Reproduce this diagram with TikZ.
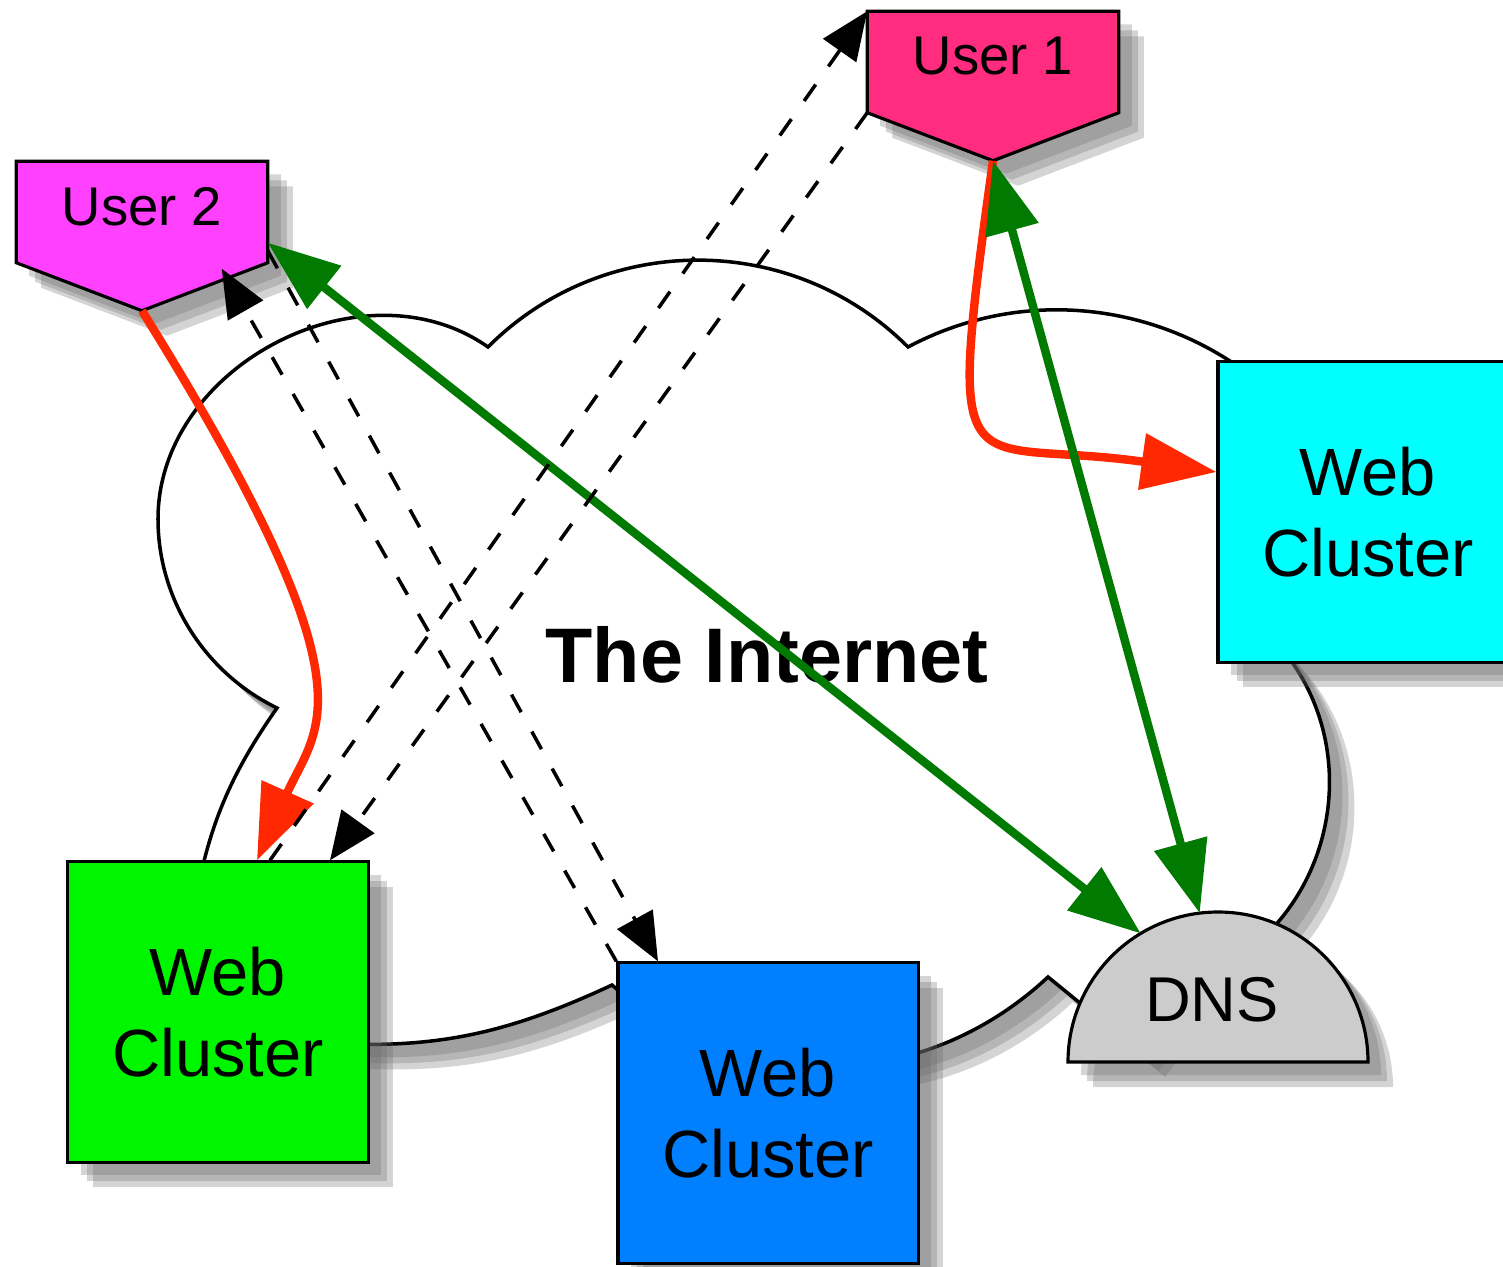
\documentclass[tikz,border=0pt]{standalone}
\usepackage{fontspec}
\setmainfont{Liberation Sans}
\usepackage{tikz}
\usetikzlibrary{arrows.meta, calc, shadows, backgrounds}
\definecolor{userone}{RGB}{255,44,128}
\definecolor{usertwo}{RGB}{255,64,255}
\definecolor{clustercyan}{RGB}{0,255,255}
\definecolor{clustergreen}{RGB}{0,245,0}
\definecolor{clusterblue}{RGB}{0,128,255}
\definecolor{dnsgray}{RGB}{204,204,204}
\definecolor{flowred}{RGB}{255,40,0}
\definecolor{flowgreen}{RGB}{0,122,0}
\tikzset{
    x=0.01cm, y=0.01cm, % one unit is one pixel of the sketch
    boxshadow/.style={ % soft grey shadow to the lower right
        drop shadow={shadow xshift=0.13cm, shadow yshift=-0.13cm, opacity=0.28, fill=black!60},
        drop shadow={shadow xshift=0.19cm, shadow yshift=-0.19cm, opacity=0.28, fill=black!60},
        drop shadow={shadow xshift=0.25cm, shadow yshift=-0.25cm, opacity=0.28, fill=black!60}},
    cluster/.style={draw, line width=0.9pt, minimum width=3cm, minimum height=3cm, align=center, font=\fontsize{19}{23}\selectfont, boxshadow}, % the web clusters
    userbox/.style={inner sep=0pt, minimum width=2.5cm, minimum height=1cm, text depth=0.12cm, font=\fontsize{15.5}{18}\selectfont}, % upper part of a user pentagon
    outline/.style={draw, line width=0.9pt, boxshadow}, % shapes drawn as paths
    netcloud/.style={draw, fill=white, line width=1pt, boxshadow}, % the internet
    redflow/.style={flowred, line width=2.4pt, -{Triangle[length=0.75cm, width=0.55cm]}}, % requests
    greenflow/.style={flowgreen, line width=2.4pt, {Triangle[length=0.72cm, width=0.53cm]}-{Triangle[length=0.72cm, width=0.53cm]}}, % lookups
    dashflow/.style={line width=1pt, dash pattern=on 5.7pt off 6.3pt, -{Triangle[length=0.48cm, width=0.4cm]}}, % redirects
}

\begin{document}
\begin{tikzpicture}
    \useasboundingbox (0,0) rectangle (1503,1266);

    \node[cluster, fill=clustergreen] (WG) at (218,254) {Web\\Cluster};
    \node[cluster, fill=clusterblue] (WB) at (768,153) {Web\\Cluster};
    \node[cluster, fill=clustercyan] (WC) at (1368,754) {Web\\Cluster};
    \node[userbox] (U1) at (993,1204) {User 1};
    \node[userbox] (U2) at (142,1054) {User 2};
    \node[font=\fontsize{18}{22}\selectfont] (DNS) at (1212,266) {DNS};
    \node[font=\bfseries\fontsize{22}{26}\selectfont] (NET) at (767,611) {The Internet};
    \coordinate (DC) at (1218,204); % centre of the dns half disc
    \coordinate (T1) at ($(U1.south)+(0,-48)$);
    \coordinate (T2) at ($(U2.south)+(0,-48)$);

    \begin{scope}[on background layer]
        % cloud, one curve per puff, hidden joints under the boxes
        \draw[netcloud] (277,558) to[out=154, in=-90, looseness=0.92] (158,747)
            to[out=90, in=145, looseness=1.05] (488,919)
            to[out=45, in=135] (908,919)
            to[out=28, in=110, looseness=1.03] (1355,748) -- (1255,644)
            to[out=-40, in=20, looseness=1.13] (1191,284) -- (1140,214) -- (1048,289)
            to[out=-137, in=-41] (612,281)
            to[out=205, in=-5] (300,225) -- (190,330)
            to[out=82, in=-125] cycle;
        \draw[outline, fill=userone] (U1.north west) -- (U1.north east) -- (U1.south east) -- (T1) -- (U1.south west) -- cycle;
        \draw[outline, fill=usertwo] (U2.north west) -- (U2.north east) -- (U2.south east) -- (T2) -- (U2.south west) -- cycle;
        \draw[outline, fill=dnsgray] ($(DC)+(-150,0)$) arc (180:0:150) -- cycle;
    \end{scope}

    \draw[redflow] (T2) .. controls (380,573) and (318,542) .. ($(WG.north)+(39,0)$);
    \draw[redflow] (T1) .. controls (945,760) and (960,830) .. ($(WC.west)+(0,40)$);
    \draw[greenflow] ($(U2.south east)+(0,20)$) -- ($(DC)+(121:150)$);
    \draw[greenflow] (T1) -- ($(DC)+(97:150)$);
    \draw[dashflow] ($(WG.north)+(52,0)$) -- (U1.north west);
    \draw[dashflow] (U1.south west) -- ($(WG.north)+(112,0)$);
    \draw[dashflow] (WB.north west) -- ($(U2.south east)+(-46,-6)$);
    \draw[dashflow] ($(U2.south east)+(0,12)$) -- ($(WB.north)+(-110,0)$);
\end{tikzpicture}
\end{document}
